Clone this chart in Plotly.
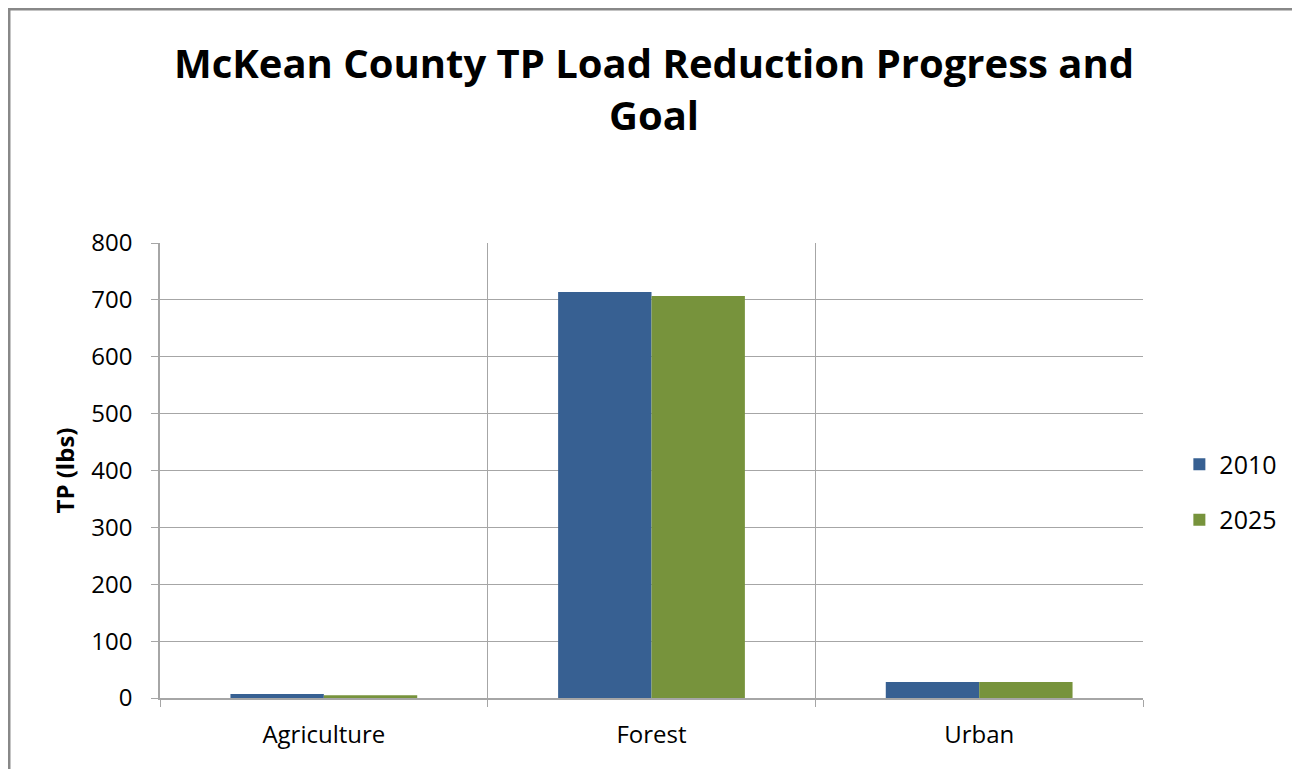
import plotly.graph_objects as go

categories = ["Agriculture", "Forest", "Urban"]
series_names = ["2010", "2025"]
values_2010 = [7, 714, 28]
values_2025 = [5, 707, 28]
colors = ["#376092", "#77933C"]
y_ticks = [0, 100, 200, 300, 400, 500, 600, 700, 800]

fig = go.Figure()
for name, vals, col in zip(series_names, [values_2010, values_2025], colors):
    fig.add_trace(go.Bar(x=categories, y=vals, name=name, legendgroup=name,
                         marker=dict(color=col, line=dict(width=0))))

grid = "#A6A6A6"
FONT = "'Open Sans', sans-serif"
W, H = 1292, 761
fig.update_layout(
    width=W, height=H,
    paper_bgcolor="white", plot_bgcolor="white",
    margin=dict(l=152, r=W - 1135, t=235, b=H - 690, autoexpand=False),
    barmode="group", bargap=0.43, bargroupgap=0,
    font=dict(family=FONT, color="#000000"),
    title=dict(text="<b>McKean County TP Load Reduction Progress and<br>Goal</b>",
               x=0.5, xanchor="center", y=0.908, yanchor="top",
               font=dict(size=40, family=FONT, color="#000")),
    legend=dict(x=1.037, xanchor="left", y=0.453, yanchor="middle",
                font=dict(size=25), itemsizing="constant", tracegroupgap=20,
                itemwidth=30),
    xaxis=dict(type="category", tickson="boundaries", showgrid=True, gridcolor=grid, gridwidth=1,
               showline=True, linecolor=grid, linewidth=1.5, ticks="outside", ticklen=7, tickcolor=grid,
               tickfont=dict(size=24), range=[-0.5, 2.5], ticklabelstandoff=14),
    yaxis=dict(range=[0, 800], tickvals=y_ticks, showgrid=True, gridcolor=grid, gridwidth=1,
               showline=True, linecolor=grid, linewidth=1.5, ticks="outside", ticklen=7, tickcolor=grid,
               tickfont=dict(size=24), zeroline=False, ticklabelstandoff=14,
               title=dict(text="<b>TP (lbs)</b>", font=dict(size=24), standoff=10)),
)
fig.add_shape(type="rect", xref="paper", yref="paper",
              x0=-152 / 983 + 0.001, x1=(1290 - 152) / 983, y0=-0.5, y1=(H - 71 - 1) / 455,
              line=dict(color="#888888", width=3), fillcolor="rgba(0,0,0,0)", layer="below")
fig.write_html("out.html")
